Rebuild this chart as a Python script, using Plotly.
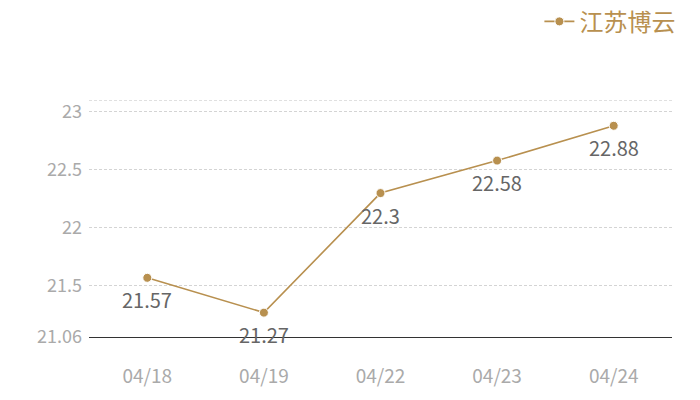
import plotly.graph_objects as go

categories = ["04/18", "04/19", "04/22", "04/23", "04/24"]
values = [21.57, 21.27, 22.3, 22.58, 22.88]
series_name = "江苏博云"
y_tick_vals = [21.06, 21.5, 22, 22.5, 23, 23.1]
y_tick_text = ["21.06", "21.5", "22", "22.5", "23", ""]

FONT = "Noto Sans CJK SC, Noto Sans, sans-serif"
GOLD = "#b8904f"
GRID = "#d4d4d4"

fig = go.Figure()
fig.add_trace(go.Scatter(
    x=categories, y=values, name=series_name,
    mode="lines+markers",
    line=dict(color=GOLD, width=1.6),
    marker=dict(color=GOLD, size=9, line=dict(color="white", width=1)),
    cliponaxis=False,
))

for c, v in zip(categories, values):
    fig.add_annotation(x=c, y=v, text=str(v), showarrow=False, yshift=-22,
                       font=dict(color="#666666", size=20, family=FONT))

# top gridline at the axis maximum (plotly hides gridlines on the range edge)
fig.add_shape(type="line", xref="paper", x0=0, x1=1, yref="y",
              y0=y_tick_vals[-1], y1=y_tick_vals[-1],
              line=dict(color=GRID, width=1, dash="3px,2px"), layer="below")

fig.update_layout(
    width=700, height=400,
    margin=dict(l=89, r=28, t=100, b=63, autoexpand=False),
    paper_bgcolor="white", plot_bgcolor="white",
    font=dict(family=FONT),
    showlegend=True,
    legend=dict(x=1.0144, xanchor="right", y=1.425, yanchor="top",
                font=dict(color=GOLD, size=24, family=FONT),
                bgcolor="rgba(0,0,0,0)", itemwidth=30),
    xaxis=dict(type="category", range=[-0.5, 4.5], showgrid=False, automargin=False,
               showline=True, linecolor="#333333", linewidth=1,
               ticks="", ticklabelstandoff=22,
               tickfont=dict(color="#aaaaaa", size=19, family=FONT),
               zeroline=False),
    yaxis=dict(range=[21.06, 23.102], tickvals=y_tick_vals, ticktext=y_tick_text,
               automargin=False, ticklabelstandoff=6,
               showgrid=True, gridcolor=GRID, griddash="3px,2px", gridwidth=1,
               zeroline=False, showline=False, ticks="",
               tickfont=dict(color="#aaaaaa", size=18, family=FONT)),
)

fig.write_html("out.html", config={"displayModeBar": False},
               post_script="document.body.style.margin='0';")
